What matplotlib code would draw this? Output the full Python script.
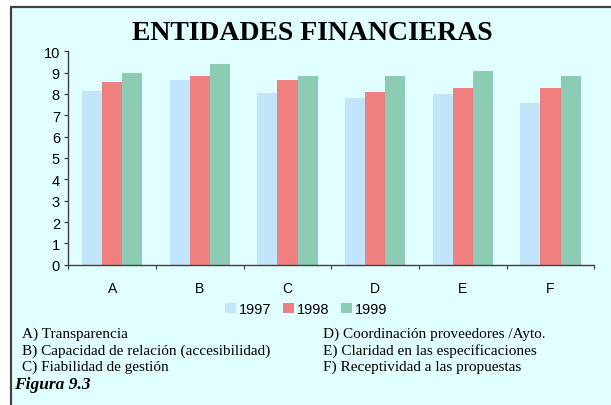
import matplotlib
matplotlib.use("Agg")
import matplotlib.pyplot as plt
from matplotlib.patches import Rectangle, Patch
import numpy as np

categories = ["A", "B", "C", "D", "E", "F"]
years = ["1997", "1998", "1999"]
v1997 = [8.15, 8.65, 8.05, 7.8, 8.0, 7.6]
v1998 = [8.55, 8.85, 8.65, 8.1, 8.3, 8.3]
v1999 = [9.0, 9.4, 8.85, 8.85, 9.1, 8.85]
yticks = list(range(0, 11))
notes_left = ["A) Transparencia",
              "B) Capacidad de relación (accesibilidad)",
              "C) Fiabilidad de gestión"]
notes_right = ["D) Coordinación proveedores /Ayto.",
               "E) Claridad en las especificaciones",
               "F) Receptividad a las propuestas"]
title = "ENTIDADES FINANCIERAS"
caption = "Figura 9.3"

colors = ["#C2E4FC", "#F08080", "#8CCCB4"]
bg = "#E2FFFF"
edge = "#404040"
W, H = 611, 406

fig = plt.figure(figsize=(W / 100, H / 100), dpi=100)
fig.patch.set_facecolor("white")

# framed panel behind everything
frame = Rectangle((11 / W, -0.05), 1.1, (H - 7.5) / H + 0.05, transform=fig.transFigure,
                  facecolor=bg, edgecolor=edge, linewidth=1.6, zorder=-10)
fig.patches.append(frame)

x0, x1 = 68.3, 594.3
y0, y1 = 265.7, 52.3
ax = fig.add_axes([x0 / W, (H - y0) / H, (x1 - x0) / W, (y0 - y1) / H])
ax.set_zorder(1)
ax.set_facecolor("none")

x = np.arange(len(categories))
bw = 0.23
for i, (vals, c, lab) in enumerate(zip([v1997, v1998, v1999], colors, years)):
    ax.bar(x + (i - 1) * bw, vals, width=bw, color=c, label=lab, linewidth=0, zorder=2)

ax.set_xlim(-0.5, len(categories) - 0.5)
ax.set_ylim(0, 10)
ax.set_yticks(yticks)
ax.set_yticklabels([str(t) for t in yticks], fontfamily="Liberation Sans", fontsize=10.5)
ax.set_xticks(x)
ax.set_xticklabels(categories, fontfamily="Liberation Sans", fontsize=10)
ax.set_xticks(np.arange(-0.5, len(categories)), minor=True)
ax.tick_params(axis="x", which="major", length=0, pad=12)
ax.tick_params(axis="x", which="minor", length=3, width=0.9, color=edge, direction="out")
ax.tick_params(axis="y", length=3, width=0.9, color=edge, pad=3, direction="out")
for s in ["top", "right"]:
    ax.spines[s].set_visible(False)
for s in ["left", "bottom"]:
    ax.spines[s].set_color(edge)
    ax.spines[s].set_linewidth(1.0)

fig.text(312 / W, 1 - 34 / H, title, ha="center", va="center",
         fontfamily="Liberation Serif", fontweight="bold", fontsize=20)

handles = [Patch(facecolor=c, edgecolor="none") for c in colors]
fig.legend(handles, years, loc="center", bbox_to_anchor=(306 / W, 1 - 310 / H),
           ncol=3, frameon=False, prop={"family": "Liberation Sans", "size": 10.5},
           handlelength=0.75, handleheight=0.75, handletextpad=0.2, columnspacing=0.8,
           borderpad=0)

line_y = [334, 351, 367]
for t, yy in zip(notes_left, line_y):
    fig.text(22 / W, 1 - yy / H, t, ha="left", va="center",
             fontfamily="Liberation Serif", fontsize=11)
for t, yy in zip(notes_right, line_y):
    fig.text(323 / W, 1 - yy / H, t, ha="left", va="center",
             fontfamily="Liberation Serif", fontsize=11)
fig.text(14 / W, 1 - 385 / H, caption, ha="left", va="center",
         fontfamily="Liberation Serif", fontweight="bold", fontstyle="italic", fontsize=12.5)

fig.savefig("out.png", dpi=100, facecolor=fig.get_facecolor())
